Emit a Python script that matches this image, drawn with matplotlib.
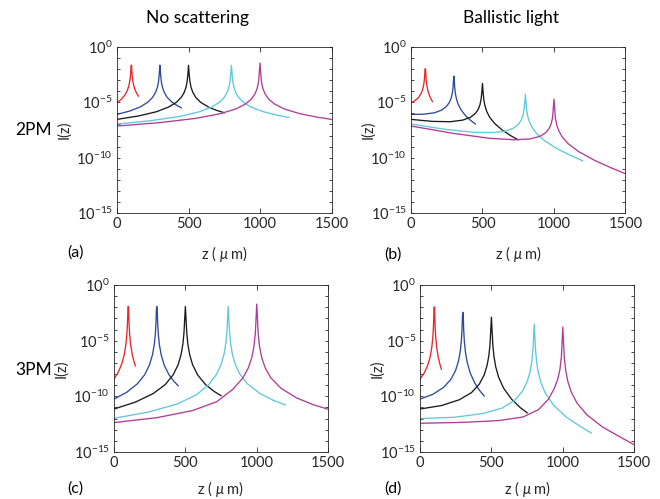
import numpy as np
import matplotlib
matplotlib.use("Agg")
import matplotlib.pyplot as plt
from matplotlib.ticker import FixedLocator, FixedFormatter

plt.rcParams['font.family'] = ['Lato', 'DejaVu Sans']
plt.rcParams['mathtext.fontset'] = 'custom'
plt.rcParams['mathtext.rm'] = 'Lato'
plt.rcParams['mathtext.it'] = 'Lato:italic'

# z positions (um) sampled along each focal depth
z_f100 = [0, 30, 55, 72, 83, 90, 94, 96.5, 98, 99, 100, 101, 102, 103.5, 106, 110, 117, 128, 140, 150]
z_f300 = [0, 90, 165, 216, 249, 270, 282, 289.5, 294, 297, 300, 303, 306, 310.5, 318, 330, 351, 384, 420, 450]
z_f500 = [0, 150, 275, 360, 415, 450, 470, 482.5, 490, 495, 500, 505, 510, 517.5, 530, 550, 585, 640, 700, 750]
z_f800 = [0, 240, 440, 576, 664, 720, 752, 772, 784, 792, 800, 808, 816, 828, 848, 880, 936, 1024, 1120, 1200]
z_f1000 = [0, 300, 550, 720, 830, 900, 940, 965, 980, 990, 1000, 1010, 1020, 1035, 1060, 1100, 1170, 1280, 1400, 1500]

# log10 I(z)
# (a) 2PM, no scattering
a_red = [-5.04, -4.73, -4.35, -3.93, -3.50, -3.04, -2.60, -2.13, -1.66, -1.65, -1.65, -1.65, -1.66, -2.13, -2.60, -3.04, -3.50, -3.93, -4.24, -4.44]
a_blue = [-6.09, -5.78, -5.40, -4.98, -4.55, -4.09, -3.65, -3.18, -2.69, -2.09, -1.65, -2.09, -2.69, -3.18, -3.65, -4.09, -4.55, -4.98, -5.29, -5.49]
a_black = [-6.54, -6.23, -5.85, -5.43, -5.00, -4.54, -4.10, -3.63, -3.14, -2.54, -1.65, -2.54, -3.14, -3.63, -4.10, -4.54, -5.00, -5.43, -5.74, -5.94]
a_cyan = [-6.96, -6.65, -6.27, -5.85, -5.42, -4.96, -4.52, -4.05, -3.56, -2.96, -1.65, -2.96, -3.56, -4.05, -4.52, -4.96, -5.42, -5.85, -6.16, -6.36]
a_magenta = [-7.14, -6.83, -6.45, -6.03, -5.60, -5.14, -4.70, -4.23, -3.74, -3.14, -1.44, -3.14, -3.74, -4.23, -4.70, -5.14, -5.60, -6.03, -6.34, -6.54]

# (b) 2PM, ballistic light
b_red = [-5.04, -4.83, -4.53, -4.17, -3.77, -3.33, -2.91, -2.45, -1.98, -1.97, -1.98, -1.98, -1.99, -2.47, -2.95, -3.40, -3.88, -4.35, -4.70, -4.93]
b_blue = [-6.09, -6.07, -5.94, -5.69, -5.36, -4.97, -4.57, -4.13, -3.65, -3.06, -2.63, -3.08, -3.69, -4.20, -4.69, -5.17, -5.70, -6.24, -6.66, -6.96]
b_black = [-6.54, -6.72, -6.75, -6.61, -6.36, -6.01, -5.64, -5.21, -4.74, -4.16, -3.29, -4.19, -4.81, -5.32, -5.83, -6.34, -6.91, -7.52, -8.03, -8.39]
b_cyan = [-6.96, -7.44, -7.71, -7.73, -7.59, -7.31, -6.98, -6.57, -6.12, -5.55, -4.27, -5.60, -6.23, -6.76, -7.29, -7.84, -8.48, -9.20, -9.82, -10.28]
b_magenta = [-7.14, -7.81, -8.25, -8.38, -8.31, -8.08, -7.77, -7.39, -6.95, -6.38, -4.71, -6.44, -7.08, -7.61, -8.17, -8.74, -9.43, -10.22, -10.92, -11.45]

# (c) 3PM, no scattering
c_red = [-8.46, -7.84, -7.07, -6.25, -5.38, -4.46, -3.57, -2.64, -1.94, -1.93, -1.93, -1.93, -1.94, -2.64, -3.57, -4.46, -5.38, -6.25, -6.87, -7.26]
c_blue = [-10.25, -9.63, -8.86, -8.04, -7.17, -6.25, -5.36, -4.43, -3.45, -2.25, -1.93, -2.25, -3.45, -4.43, -5.36, -6.25, -7.17, -8.04, -8.66, -9.05]
c_black = [-11.14, -10.52, -9.75, -8.93, -8.06, -7.14, -6.25, -5.32, -4.34, -3.14, -1.93, -3.14, -4.34, -5.32, -6.25, -7.14, -8.06, -8.93, -9.55, -9.94]
c_cyan = [-11.97, -11.42, -10.70, -9.88, -8.95, -7.99, -7.08, -6.15, -5.17, -3.97, -1.93, -3.97, -5.17, -6.15, -7.08, -7.97, -8.89, -9.76, -10.38, -10.77]
c_magenta = [-12.36, -11.92, -11.28, -10.48, -9.40, -8.40, -7.47, -6.54, -5.56, -4.36, -1.72, -4.36, -5.56, -6.54, -7.47, -8.36, -9.28, -10.15, -10.77, -11.16]

# (d) 3PM, ballistic light
d_red = [-8.46, -7.90, -7.18, -6.40, -5.55, -4.65, -3.76, -2.84, -1.98, -1.98, -1.98, -1.98, -1.98, -2.85, -3.79, -4.69, -5.62, -6.51, -7.16, -7.57]
d_blue = [-10.25, -9.82, -9.20, -8.48, -7.68, -6.80, -5.94, -5.02, -4.05, -2.86, -2.45, -2.87, -4.08, -5.07, -6.01, -6.93, -7.89, -8.83, -9.52, -9.97]
d_black = [-11.14, -10.83, -10.31, -9.67, -8.91, -8.06, -7.21, -6.31, -5.35, -4.16, -2.90, -4.18, -5.39, -6.38, -7.34, -8.27, -9.26, -10.24, -10.99, -11.48]
d_cyan = [-12.00, -11.88, -11.55, -11.05, -10.35, -9.50, -8.62, -7.73, -6.78, -5.59, -3.52, -5.63, -6.84, -7.85, -8.82, -9.77, -10.81, -11.86, -12.68, -13.30]
d_magenta = [-12.42, -12.34, -12.18, -11.86, -11.20, -10.25, -9.30, -8.45, -7.57, -6.45, -3.78, -6.43, -7.65, -8.66, -9.64, -10.62, -11.68, -12.77, -13.64, -14.35]

zs = [z_f100, z_f300, z_f500, z_f800, z_f1000]
colors = ['#e8262a', '#2e4a9e', '#1a1a1a', '#5fc8dc', '#b03c96']
panels = {
    'a': [a_red, a_blue, a_black, a_cyan, a_magenta],
    'b': [b_red, b_blue, b_black, b_cyan, b_magenta],
    'c': [c_red, c_blue, c_black, c_cyan, c_magenta],
    'd': [d_red, d_blue, d_black, d_cyan, d_magenta],
}
# axes rectangles in figure fractions
rects = {
    'a': [0.1773, 0.5731, 0.3250, 0.3327],
    'b': [0.6227, 0.5731, 0.3250, 0.3327],
    'c': [0.1727, 0.0942, 0.3245, 0.3347],
    'd': [0.6364, 0.0942, 0.3245, 0.3347],
}

fig = plt.figure(figsize=(6.6, 4.99), dpi=100)
axc = '#262626'

for key in ['a', 'b', 'c', 'd']:
    ax = fig.add_axes(rects[key])
    for z, logi, col in zip(zs, panels[key], colors):
        ax.plot(z, 10.0 ** np.array(logi), color=col, lw=0.95)
    ax.set_yscale('log')
    ax.set_xlim(0, 1500)
    ax.set_ylim(1e-15, 1e0)
    ax.xaxis.set_major_locator(FixedLocator([0, 500, 1000, 1500]))
    decades = list(range(-15, 1))
    ax.yaxis.set_major_locator(FixedLocator([10.0 ** e for e in decades]))
    ax.yaxis.set_major_formatter(FixedFormatter(
        [r'10$^{%d}$' % e if e % 5 == 0 else '' for e in decades]))
    ax.yaxis.set_minor_locator(FixedLocator([]))
    ax.tick_params(direction='in', which='both', top=True, right=True,
                   length=2.5, width=0.6, color=axc, labelsize=10.5, labelcolor=axc)
    ax.tick_params(axis='x', length=3.5, pad=3)
    ax.tick_params(axis='y', pad=3)
    for sp in ax.spines.values():
        sp.set_linewidth(0.6)
        sp.set_color(axc)
    ax.set_xlabel(r'z ( $\mu$ m)', fontsize=10.5, color=axc)
    ax.set_ylabel('I(z)', fontsize=10.5, color=axc)
    if key in ('a', 'b'):
        ax.xaxis.set_label_coords(0.5, -0.185)
    else:
        ax.xaxis.set_label_coords(0.5, -0.16)
    if key in ('a', 'c'):
        ax.yaxis.set_label_coords(-0.215, 0.5)
    else:
        ax.yaxis.set_label_coords(-0.165, 0.5)

fig.text(198 / 660, 1 - 18 / 499, 'No scattering', fontsize=12.5, ha='center', va='center')
fig.text(511 / 660, 1 - 18 / 499, 'Ballistic light', fontsize=12.5, ha='center', va='center')
fig.text(34 / 660, 1 - 130 / 499, '2PM', fontsize=12.5, ha='center', va='center')
fig.text(34 / 660, 1 - 370 / 499, '3PM', fontsize=12.5, ha='center', va='center')
fig.text(75 / 660, 1 - 253 / 499, '(a)', fontsize=11.5, ha='center', va='center')
fig.text(393 / 660, 1 - 255 / 499, '(b)', fontsize=11.5, ha='center', va='center')
fig.text(75 / 660, 1 - 489 / 499, '(c)', fontsize=11.5, ha='center', va='center')
fig.text(393 / 660, 1 - 489 / 499, '(d)', fontsize=11.5, ha='center', va='center')

fig.savefig('out.png', dpi=100)
